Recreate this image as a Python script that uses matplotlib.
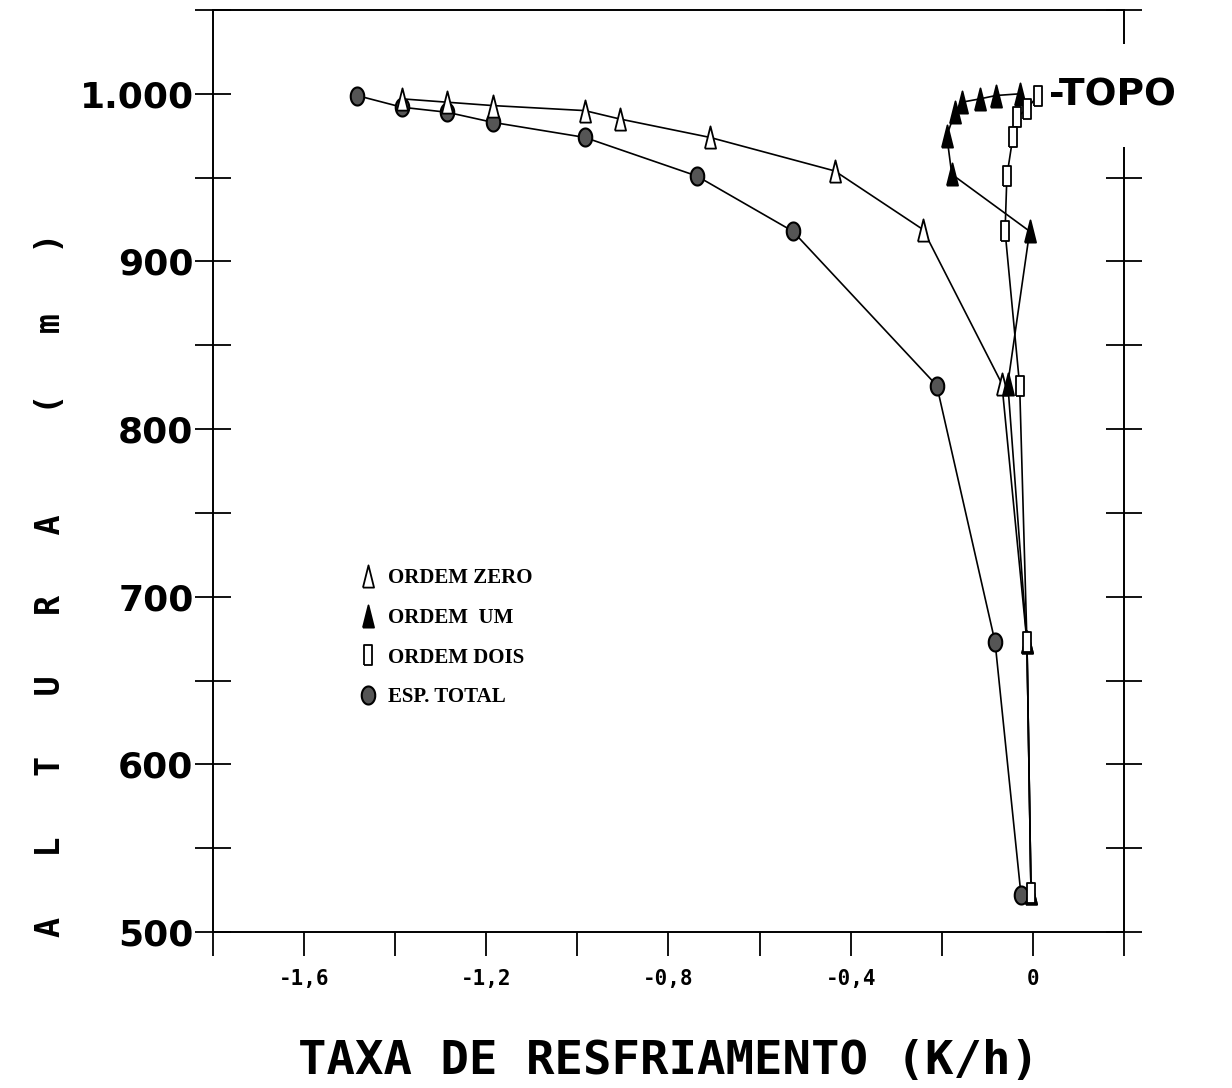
import numpy as np
import matplotlib
matplotlib.use('Agg')
import matplotlib.pyplot as plt
from matplotlib.ticker import MultipleLocator, FixedLocator

# dados (taxa em K/h, altura em m)
x_zero = [-1.385, -1.286, -1.186, -0.984, -0.907, -0.709, -0.435, -0.241, -0.068, -0.013, -0.004]
y_zero = [997, 995, 993, 990, 985, 974, 954, 919, 827, 673, 523]

x_um = [-0.029, -0.081, -0.116, -0.156, -0.171, -0.189, -0.178, -0.007, -0.055, -0.013, -0.004]
y_um = [1000, 999, 997, 995, 989, 975, 952, 918, 827, 673, 523]

x_dois = [0.011, -0.013, -0.035, -0.044, -0.057, -0.061, -0.029, -0.013, -0.004]
y_dois = [999, 991, 986, 974, 951, 918, 826, 673, 523]

x_total = [-1.484, -1.385, -1.286, -1.186, -0.984, -0.738, -0.527, -0.211, -0.083, -0.026]
y_total = [999, 992, 989, 983, 974, 951, 918, 826, 673, 522]

labels = ['ORDEM ZERO', 'ORDEM  UM', 'ORDEM DOIS', 'ESP. TOTAL']
xtick_pos = [-1.6, -1.2, -0.8, -0.4, 0]
xtick_lab = ['-1,6', '-1,2', '-0,8', '-0,4', '0']
ytick_pos = [500, 600, 700, 800, 900, 1000]
ytick_lab = ['500', '600', '700', '800', '900', '1.000']

# marcadores "esticados" como no original
tri = [(-0.5, -1), (0.5, -1), (0, 1), (-0.5, -1)]
rect = [(-0.4, -1), (0.4, -1), (0.4, 1), (-0.4, 1), (-0.4, -1)]
t = np.linspace(0, 2*np.pi, 40)
ell = list(zip(0.75*np.cos(t), np.sin(t)))

fig = plt.figure(figsize=(12.32, 10.88), dpi=100)
ax = fig.add_axes([0.1729, 0.1434, 0.9123-0.1729, 0.9908-0.1434])

lw = 1.2
ax.plot(x_zero, y_zero, '-', color='k', lw=lw, zorder=3)
ax.plot(x_um, y_um, '-', color='k', lw=lw, zorder=3)
ax.plot(x_dois, y_dois, '-', color='k', lw=lw, zorder=3)
ax.plot(x_total, y_total, '-', color='k', lw=lw, zorder=3)

ax.plot(x_total, y_total, ls='none', marker=ell, ms=13, mfc='#555555', mec='k', mew=1.5, zorder=4, label=labels[3])
ax.plot(x_zero, y_zero, ls='none', marker=tri, ms=16, mfc='white', mec='k', mew=1.3, zorder=5, label=labels[0])
ax.plot(x_um, y_um, ls='none', marker=tri, ms=16, mfc='k', mec='k', mew=1.3, zorder=5, label=labels[1])
ax.plot(x_dois, y_dois, ls='none', marker=rect, ms=14, mfc='white', mec='k', mew=1.3, zorder=6, label=labels[2])

ax.set_xlim(-1.8, 0.2)
ax.set_ylim(500, 1050)

ax.xaxis.set_major_locator(FixedLocator(xtick_pos))
ax.xaxis.set_minor_locator(MultipleLocator(0.2))
ax.set_xticklabels(xtick_lab, family='DejaVu Sans Mono', fontweight='bold', fontsize=15)
ax.tick_params(axis='x', which='both', direction='out', length=17, width=1.3, pad=10)

ax.yaxis.set_major_locator(FixedLocator(ytick_pos))
ax.yaxis.set_minor_locator(MultipleLocator(50))
ax.set_yticklabels(ytick_lab, family='DejaVu Sans', fontweight='bold', fontsize=26)
ax.tick_params(axis='y', which='both', direction='inout', length=26, width=1.3, pad=1,
               left=True, right=True)

for s in ax.spines.values():
    s.set_linewidth(1.4)

ax.set_ylabel('A   L   T   U   R   A     (   m   )', family='DejaVu Sans Mono',
              fontweight='bold', fontsize=24)
ax.yaxis.set_label_coords(-0.16, 0.377)
ax.set_xlabel('TAXA DE RESFRIAMENTO (K/h)', family='DejaVu Sans Mono', fontweight='bold',
              fontsize=34, labelpad=36)

ax.annotate('-TOPO', xy=(x_dois[0], y_dois[0]), xytext=(8, 0), textcoords='offset points',
            ha='left', va='center', fontsize=27, fontweight='bold', family='DejaVu Sans',
            annotation_clip=False, zorder=2.6,
            bbox=dict(boxstyle='square,pad=0.9', fc='white', ec='none'))

h, l = ax.get_legend_handles_labels()
order = [1, 2, 3, 0]
ax.legend([h[i] for i in order], [l[i] for i in order], loc='upper left',
          bbox_to_anchor=(0.14, 0.415), frameon=False, numpoints=1, handlelength=0.8,
          handletextpad=0.6, labelspacing=0.95,
          prop={'family': 'Liberation Serif', 'weight': 'bold', 'size': 15})

fig.savefig('out.png', dpi=100)
